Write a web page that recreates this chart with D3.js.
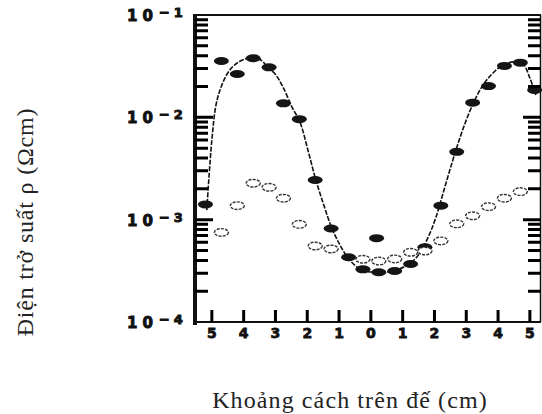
<!DOCTYPE html>
<html>
<head>
<meta charset="utf-8">
<script src="https://cdn.jsdelivr.net/npm/d3@7/dist/d3.min.js"></script>
<style>
body { margin: 0; background: #fff; }
</style>
</head>
<body>
<svg width="542" height="414"></svg>
<script>
// distance along the substrate (cm), left half stored as negative
var posFilled = [-5.2, -4.7, -4.2, -3.7, -3.2, -2.75, -2.25, -1.75, -1.25, -0.7, -0.25,
                 0.25, 0.75, 1.25, 1.7, 2.2, 2.7, 3.2, 3.7, 4.2, 4.7, 5.15];
var rhoFilled = [1.41e-3, 3.55e-2, 2.65e-2, 3.78e-2, 3.08e-2, 1.37e-2, 9.6e-3, 2.44e-3, 8.2e-4, 4.29e-4, 3.27e-4,
                 3.06e-4, 3.15e-4, 3.69e-4, 5.37e-4, 1.37e-3, 4.6e-3, 1.39e-2, 2.02e-2, 3.18e-2, 3.42e-2, 1.85e-2];
var posOutlier = [0.18];
var rhoOutlier = [6.6e-4];

var posOpen = [-4.7, -4.2, -3.7, -3.2, -2.75, -2.25, -1.75, -1.25, -0.25,
               0.25, 0.75, 1.25, 1.7, 2.2, 2.7, 3.2, 3.7, 4.2, 4.7];
var rhoOpen = [7.5e-4, 1.37e-3, 2.27e-3, 2.07e-3, 1.62e-3, 9.0e-4, 5.53e-4, 5.17e-4, 4.1e-4,
               3.94e-4, 4.13e-4, 4.8e-4, 4.94e-4, 6.2e-4, 9.1e-4, 1.09e-3, 1.34e-3, 1.62e-3, 1.88e-3];

// fitted curve through the filled points
var posFit = [-5.16, -5.0, -4.87, -4.72, -4.5, -4.25, -3.96, -3.71, -3.46, -3.24, -2.99, -2.77, -2.48, -2.23,
              -1.98, -1.73, -1.48, -1.23, -0.97, -0.72, -0.47, -0.22, 0.03, 0.28, 0.53, 0.79, 1.04, 1.29,
              1.54, 1.79, 2.04, 2.30, 2.55, 2.80, 3.05, 3.30, 3.55, 3.81, 4.06, 4.31, 4.56, 4.81, 5.0, 5.19];
var rhoFit = [1.24e-3, 6.0e-3, 1.32e-2, 1.94e-2, 2.71e-2, 3.32e-2, 3.71e-2, 3.84e-2, 3.63e-2, 3.10e-2, 2.6e-2,
              2.0e-2, 1.26e-2, 9.0e-3, 4.8e-3, 2.44e-3, 1.39e-3, 8.3e-4, 5.65e-4, 4.22e-4, 3.52e-4, 3.15e-4,
              3.08e-4, 3.08e-4, 3.08e-4, 3.22e-4, 3.44e-4, 3.85e-4, 4.72e-4, 6.6e-4, 1.04e-3, 1.95e-3, 3.58e-3,
              6.3e-3, 1.03e-2, 1.55e-2, 2.12e-2, 2.65e-2, 3.10e-2, 3.40e-2, 3.48e-2, 3.24e-2, 2.42e-2, 1.65e-2];

var xTicks = [-5, -4, -3, -2, -1, 0, 1, 2, 3, 4, 5];
var yDecades = [1e-4, 1e-3, 1e-2, 1e-1];
var yExponents = ["-4", "-3", "-2", "-1"];

var svg = d3.select("svg");

var x = d3.scaleLinear().domain([-5.53, 5.35]).range([195, 541]);
var y = d3.scaleLog().domain([1e-4, 1e-1]).range([322, 15]);

// minor log ticks 2..9 in each decade, longer ones at inner decades
var yMinor = [];
[1e-4, 1e-3, 1e-2].forEach(function(d) {
  for (var k = 2; k <= 9; k++) yMinor.push(d * k);
});
var yMajor = [1e-3, 1e-2];

// frame
svg.append("line").attr("x1", 195).attr("x2", 541).attr("y1", 15).attr("y2", 15)
  .attr("stroke", "#111").attr("stroke-width", 2);
svg.append("line").attr("x1", 195).attr("x2", 541).attr("y1", 322).attr("y2", 322)
  .attr("stroke", "#111").attr("stroke-width", 2);
svg.append("line").attr("x1", 540.5).attr("x2", 540.5).attr("y1", 15).attr("y2", 322)
  .attr("stroke", "#111").attr("stroke-width", 1.5);
svg.append("line").attr("x1", 195).attr("x2", 195).attr("y1", 14).attr("y2", 325)
  .attr("stroke", "#111").attr("stroke-width", 4);

svg.selectAll(".xl").data(xTicks).enter().append("text")
  .attr("class", "xl")
  .attr("x", function(d) { return x(d); }).attr("y", 338)
  .attr("text-anchor", "middle")
  .attr("font-family", "DejaVu Sans").attr("font-weight", "bold").attr("font-size", 14)
  .attr("fill", "#111").attr("stroke", "#111").attr("stroke-width", 0.8)
  .text(function(d) { return Math.abs(d); });

// decade labels 10^n
var yl = svg.selectAll(".ylab").data(yDecades).enter().append("text")
  .attr("class", "ylab")
  .attr("x", 127).attr("y", function(d) { return y(d) + 6; })
  .attr("font-family", "DejaVu Sans").attr("font-weight", "bold").attr("font-size", 15)
  .attr("fill", "#111").attr("stroke", "#111").attr("stroke-width", 0.9);
yl.append("tspan").attr("letter-spacing", 5).text("10");
yl.append("tspan").attr("dy", -4).attr("dx", 1).attr("font-size", 13).attr("letter-spacing", 4)
  .text(function(d, i) { return yExponents[i].replace("-", "\u2212"); });

// fitted curve
var fit = posFit.map(function(p, i) { return [p, rhoFit[i]]; });
svg.append("path").datum(fit)
  .attr("fill", "none").attr("stroke", "#111").attr("stroke-width", 1.6)
  .attr("stroke-dasharray", "5,1.5")
  .attr("d", d3.line().x(function(d) { return x(d[0]); }).y(function(d) { return y(d[1]); })
    .curve(d3.curveCatmullRom));

// filled points
var filled = posFilled.map(function(p, i) { return [p, rhoFilled[i]]; })
  .concat(posOutlier.map(function(p, i) { return [p, rhoOutlier[i]]; }));
svg.selectAll(".filled").data(filled).enter().append("ellipse")
  .attr("class", "filled")
  .attr("cx", function(d) { return x(d[0]); })
  .attr("cy", function(d) { return y(d[1]); })
  .attr("rx", 7.5).attr("ry", 4)
  .attr("fill", "#151515");

// open points
var open = posOpen.map(function(p, i) { return [p, rhoOpen[i]]; });
svg.selectAll(".open").data(open).enter().append("ellipse")
  .attr("class", "open")
  .attr("cx", function(d) { return x(d[0]); })
  .attr("cy", function(d) { return y(d[1]); })
  .attr("rx", 7).attr("ry", 3.8)
  .attr("fill", "#fff").attr("stroke", "#333").attr("stroke-width", 1.4)
  .attr("stroke-dasharray", "3,1.2");

// ticks on top: left pointing right, right pointing left, bottom pointing up
var tickPath = "";
yMinor.forEach(function(v) {
  var yy = y(v);
  tickPath += "M195," + yy + "H208" + "M541," + yy + "H528";
});
yMajor.forEach(function(v) {
  var yy = y(v);
  tickPath += "M195," + yy + "H213" + "M541," + yy + "H523";
});
xTicks.forEach(function(v) {
  tickPath += "M" + x(v) + ",322V310";
});
svg.append("path").attr("d", tickPath)
  .attr("fill", "none").attr("stroke", "black").attr("stroke-width", 3);

// axis titles
svg.append("text")
  .attr("transform", "translate(33,222) rotate(-90)")
  .attr("text-anchor", "middle")
  .attr("font-family", "Liberation Serif").attr("font-size", 24).attr("letter-spacing", 0.8)
  .attr("fill", "#222")
  .text("Điện trở suất ρ (Ωcm)");
svg.append("text")
  .attr("x", 350).attr("y", 408)
  .attr("text-anchor", "middle")
  .attr("font-family", "Liberation Serif").attr("font-size", 24).attr("letter-spacing", 1.1)
  .attr("fill", "#222")
  .text("Khoảng cách trên đế (cm)");
</script>
</body>
</html>
